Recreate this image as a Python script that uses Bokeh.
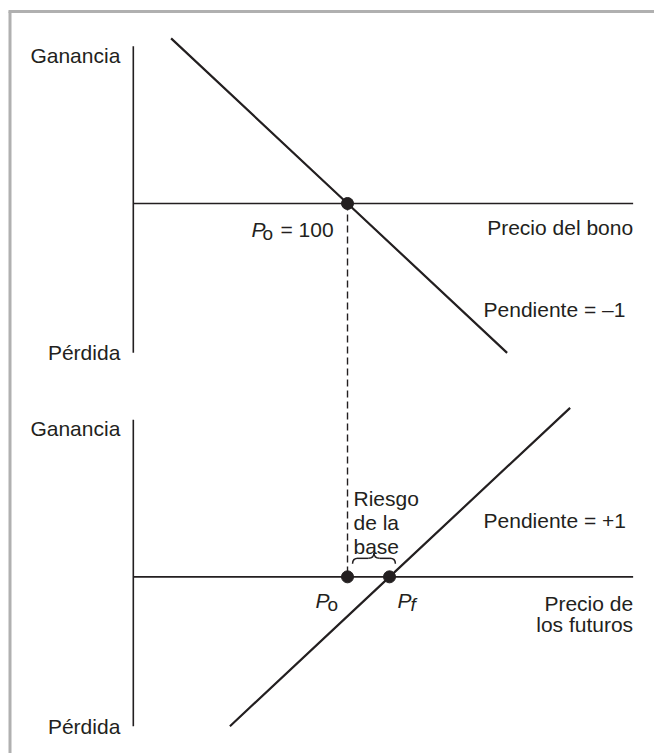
from bokeh.plotting import figure
from bokeh.models import Range1d
from bokeh.core.properties import value
from bokeh.embed import file_html
from bokeh.resources import INLINE

# ---- data (conceptual values) ----
P0 = 100          # bond price / P_o
PF = 110          # futures price P_f
bond_price = [58, 100, 138]
bond_profit = [42, 0, -38]          # slope -1
fut_price = [72, 110, 153]
fut_profit = [-38, 0, 43]           # slope +1
axis_price = [49, 168]              # extent of the price axis
axis_profit = [-38, 40]             # extent of the profit axis
PANEL_SHIFT = -95                   # vertical offset of the lower panel

top_labels = ["Ganancia", "Pérdida"]
bond_label = "Precio del bono"
fut_label = ["Precio de", "los futuros"]
slope_labels = ["Pendiente = \u20131", "Pendiente = +1"]
basis_label = ["Riesgo", "de la", "base"]

INK = "#231f20"
FONT = value("Liberation Sans")
FS = "21px"
SUB = "19px"

W, H = 654, 753
x_range = Range1d(17.38, 173.09)
y_range = Range1d(-139.95, 51.65)
SX = W / (x_range.end - x_range.start)
SY = H / (y_range.end - y_range.start)

p = figure(width=W, height=H, x_range=x_range, y_range=y_range,
           output_backend="svg", toolbar_location=None,
           x_axis_location=None, y_axis_location=None,
           min_border=0, outline_line_color=None)
p.grid.visible = False
p.background_fill_color = "white"
p.border_fill_color = "white"

# grey frame (top and left)
bx = x_range.start + 9.5 / SX
by = y_range.end - 11 / SY
p.segment(x0=[bx - 1.5 / SX, bx], y0=[by, by], x1=[x_range.end, bx], y1=[by, y_range.start],
          line_color="#b0b0b0", line_width=3)

def txt(x, y, t, xo=0, yo=0, align="left", size=FS, style="normal"):
    p.text(x=[x], y=[y], text=[t], x_offset=xo, y_offset=yo,
           text_align=align, text_baseline="alphabetic",
           text_font=FONT, text_font_size=size, text_font_style=style,
           text_color=INK)

for shift in (0, PANEL_SHIFT):
    # axes
    p.line([axis_price[0]] * 2, [v + shift for v in axis_profit], line_color=INK, line_width=1.6)
    p.line(axis_price, [shift, shift], line_color=INK, line_width=1.6)
    txt(axis_price[0], axis_profit[1] + shift, top_labels[0], xo=-13, yo=9, align="right")
    txt(axis_price[0], axis_profit[0] + shift, top_labels[1], xo=-13, yo=0, align="right")

# dashed connector
p.line([P0, P0], [0, PANEL_SHIFT], line_color=INK, line_width=1.4, line_dash="7 4")

# payoff lines
p.line(bond_price, bond_profit, line_color=INK, line_width=2.2)
p.line(fut_price, [v + PANEL_SHIFT for v in fut_profit], line_color=INK, line_width=2.2)

# points
p.scatter([P0, P0, PF], [0, PANEL_SHIFT, PANEL_SHIFT], size=12, color=INK)

# top panel labels
txt(axis_price[1], 0, bond_label, yo=24, align="right")
txt(P0, 0, slope_labels[0], xo=136, yo=106)
txt(P0, 0, "P", xo=-96, yo=26, style="italic")
txt(P0, 0, "o", xo=-85, yo=30, size=SUB)
txt(P0, 0, "= 100", xo=-67, yo=26)

# bottom panel labels
s = PANEL_SHIFT
txt(axis_price[1], s, fut_label[0], yo=27, align="right")
txt(axis_price[1], s, fut_label[1], yo=48, align="right")
txt(P0, s, slope_labels[1], xo=136, yo=-56)
txt(P0, s, "P", xo=-32, yo=24, style="italic")
txt(P0, s, "o", xo=-20, yo=28, size=SUB)
txt(PF, s, "P", xo=8, yo=24, style="italic")
txt(PF, s, "f", xo=21, yo=28, size=SUB, style="italic")
for i, t in enumerate(basis_label):
    txt(P0, s, t, xo=6, yo=-78 + 24 * i)

# brace over the basis gap
bx0, bx1 = P0 + 1.2, PF + 1.4
bm = (bx0 + bx1) / 2
q = 1.3
ye, ym, yt = s + 13 / SY, s + 18.5 / SY, s + 24 / SY
p.quadratic(x0=[bx0, bm - q, bm, bx1],
            y0=[ye, ym, yt, ye],
            x1=[bx0 + q, bm, bm + q, bx1 - q],
            y1=[ym, yt, ym, ym],
            cx=[bx0, bm, bm, bx1],
            cy=[ym, ym, ym, ym],
            line_color=INK, line_width=1.5)
p.segment(x0=[bx0 + q, bm + q], y0=[ym, ym], x1=[bm - q, bx1 - q], y1=[ym, ym],
          line_color=INK, line_width=1.5)

open("out.html", "w").write(file_html(p, INLINE))
